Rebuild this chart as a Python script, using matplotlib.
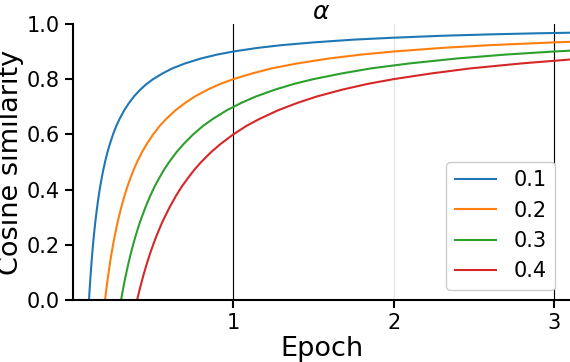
import matplotlib
matplotlib.use("Agg")
import matplotlib.pyplot as plt

labels = ["0.1", "0.2", "0.3", "0.4"]
colors = ["#1f77b4", "#ff7f0e", "#2ca02c", "#d62728"]

epoch_01 = [0.100, 0.102, 0.104, 0.106, 0.108, 0.110, 0.113, 0.116, 0.120, 0.125, 0.130, 0.135, 0.140,
            0.150, 0.160, 0.170, 0.180, 0.190, 0.200, 0.215, 0.230, 0.250, 0.270, 0.290, 0.320, 0.350,
            0.380, 0.420, 0.460, 0.500, 0.560, 0.620, 0.700, 0.800, 0.900, 1.000, 1.150, 1.300, 1.500,
            1.750, 2.000, 2.300, 2.600, 2.900, 3.100]
sim_01 = [0.0, 0.0196, 0.0385, 0.0566, 0.0741, 0.0909, 0.115, 0.138, 0.167, 0.2, 0.231, 0.259, 0.286,
          0.333, 0.375, 0.412, 0.444, 0.474, 0.5, 0.535, 0.565, 0.6, 0.630, 0.655, 0.6875, 0.714,
          0.737, 0.762, 0.783, 0.8, 0.821, 0.839, 0.857, 0.875, 0.889, 0.9, 0.913, 0.923, 0.933,
          0.943, 0.95, 0.957, 0.962, 0.966, 0.968]

epoch_02 = [0.200, 0.204, 0.208, 0.212, 0.216, 0.220, 0.226, 0.232, 0.240, 0.250, 0.260, 0.270, 0.280,
            0.300, 0.320, 0.340, 0.360, 0.380, 0.400, 0.430, 0.460, 0.500, 0.540, 0.580, 0.640, 0.700,
            0.760, 0.840, 0.920, 1.000, 1.120, 1.240, 1.400, 1.600, 1.800, 2.000, 2.300, 2.600, 3.000,
            3.100]
sim_02 = [0.0, 0.0196, 0.0385, 0.0566, 0.0741, 0.0909, 0.115, 0.138, 0.167, 0.2, 0.231, 0.259, 0.286,
          0.333, 0.375, 0.412, 0.444, 0.474, 0.5, 0.535, 0.565, 0.6, 0.630, 0.655, 0.6875, 0.714,
          0.737, 0.762, 0.783, 0.8, 0.821, 0.839, 0.857, 0.875, 0.889, 0.9, 0.913, 0.923, 0.933,
          0.935]

epoch_03 = [0.300, 0.306, 0.312, 0.318, 0.324, 0.330, 0.339, 0.348, 0.360, 0.375, 0.390, 0.405, 0.420,
            0.450, 0.480, 0.510, 0.540, 0.570, 0.600, 0.645, 0.690, 0.750, 0.810, 0.870, 0.960, 1.050,
            1.140, 1.260, 1.380, 1.500, 1.680, 1.860, 2.100, 2.400, 2.700, 3.000, 3.100]
sim_03 = [0.0, 0.0196, 0.0385, 0.0566, 0.0741, 0.0909, 0.115, 0.138, 0.167, 0.2, 0.231, 0.259, 0.286,
          0.333, 0.375, 0.412, 0.444, 0.474, 0.5, 0.535, 0.565, 0.6, 0.630, 0.655, 0.6875, 0.714,
          0.737, 0.762, 0.783, 0.8, 0.821, 0.839, 0.857, 0.875, 0.889, 0.9, 0.903]

epoch_04 = [0.400, 0.408, 0.416, 0.424, 0.432, 0.440, 0.452, 0.464, 0.480, 0.500, 0.520, 0.540, 0.560,
            0.600, 0.640, 0.680, 0.720, 0.760, 0.800, 0.860, 0.920, 1.000, 1.080, 1.160, 1.280, 1.400,
            1.520, 1.680, 1.840, 2.000, 2.240, 2.480, 2.800, 3.100]
sim_04 = [0.0, 0.0196, 0.0385, 0.0566, 0.0741, 0.0909, 0.115, 0.138, 0.167, 0.2, 0.231, 0.259, 0.286,
          0.333, 0.375, 0.412, 0.444, 0.474, 0.5, 0.535, 0.565, 0.6, 0.630, 0.655, 0.6875, 0.714,
          0.737, 0.762, 0.783, 0.8, 0.821, 0.839, 0.857, 0.871]

epochs = [epoch_01, epoch_02, epoch_03, epoch_04]
sims = [sim_01, sim_02, sim_03, sim_04]

xticks = [1, 2, 3]
yticks = [0.0, 0.2, 0.4, 0.6, 0.8, 1.0]
marked_epochs = [1, 3]

fig = plt.figure(figsize=(5.7, 3.62), dpi=100)
ax = fig.add_axes([0.128, 0.171, 0.872, 0.763])

ax.grid(axis="x", color="#e6e6e6", linewidth=1.0)
ax.set_axisbelow(True)
for xe in marked_epochs:
    ax.axvline(xe, color="black", linewidth=0.8, zorder=1.5)

for x, y, lab, c in zip(epochs, sims, labels, colors):
    ax.plot(x, y, color=c, linewidth=1.5, label=lab, zorder=2)

ax.set_xlim(0, 3.1)
ax.set_ylim(0, 1.0)
ax.set_xticks(xticks)
ax.set_xticklabels([str(t) for t in xticks])
ax.set_yticks(yticks)
ax.set_yticklabels([f"{t:.1f}" for t in yticks])

for s in ["top", "right"]:
    ax.spines[s].set_visible(False)
for s in ["left", "bottom"]:
    ax.spines[s].set_linewidth(1.5)
ax.tick_params(axis="both", labelsize=15, width=1.5, length=6, direction="out")

ax.set_xlabel("Epoch", fontsize=19.5, labelpad=2)
ax.set_ylabel("Cosine similarity", fontsize=19.5, labelpad=2)
ax.set_title(r"$\alpha$", fontsize=18, pad=3)

leg = ax.legend(loc="lower right", bbox_to_anchor=(0.99, 0.0), fontsize=15,
                framealpha=1.0, borderaxespad=0.5)
leg.set_zorder(5)

fig.savefig("out.png", dpi=100)
